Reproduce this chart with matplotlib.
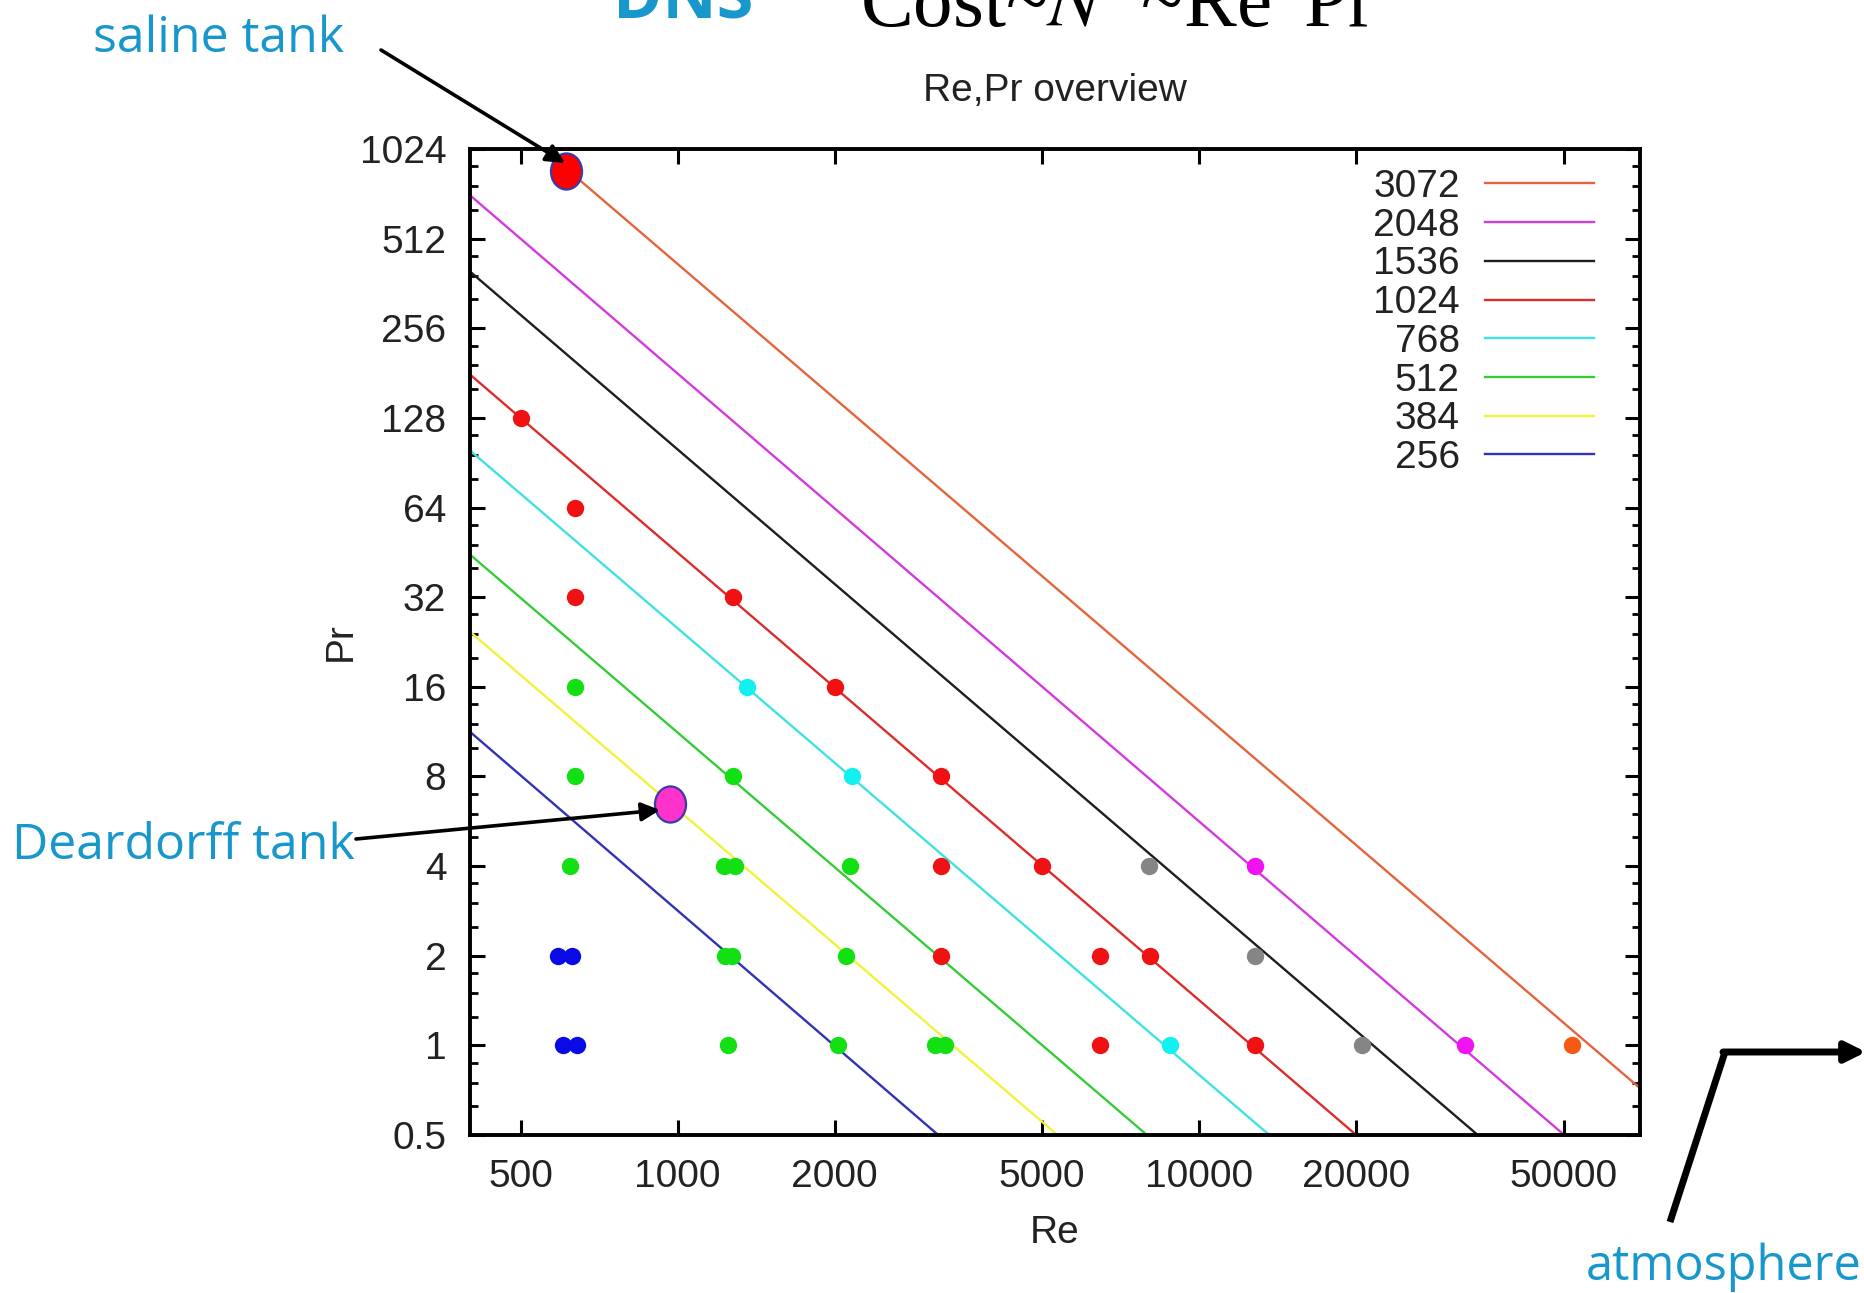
import matplotlib
matplotlib.use("Agg")
import matplotlib.pyplot as plt
from matplotlib.lines import Line2D
from matplotlib.path import Path
from matplotlib.transforms import Affine2D
from matplotlib.ticker import FixedLocator, FixedFormatter, LogLocator, NullFormatter, NullLocator

# ---------------- data ----------------
# resolution lines (N), each a straight line on log-log axes, end points
line_labels = ["3072", "2048", "1536", "1024", "768", "512", "384", "256"]
line_re_start = [553, 400, 400, 400, 400, 400, 400, 400]
line_pr_start = [1024, 716, 397, 179, 99.5, 44.5, 24.5, 11.3]
line_re_end = [70000, 50100, 34200, 20000, 13630, 7940, 5350, 3160]
line_pr_end = [0.718, 0.5, 0.5, 0.5, 0.5, 0.5, 0.5, 0.5]
line_colors = ["#e4643c", "#d23ade", "#1e1e1e", "#dc2c2c", "#3ee2e2", "#36cc36", "#f2f23a", "#3232b4"]

# simulation runs
red_re = [500, 637, 637, 1280, 2000, 3200, 3200, 3200, 5000, 6450, 6450, 8050, 12800]
red_pr = [128, 64, 32, 32, 16, 8, 4, 2, 4, 2, 1, 2, 1]
green_re = [637, 637, 623, 1230, 1290, 1235, 1270, 1250, 1280, 2140, 2105, 2030, 3110, 3250]
green_pr = [16, 8, 4, 4, 4, 2, 2, 1, 8, 4, 2, 1, 1, 1]
blue_re = [590, 628, 603, 642]
blue_pr = [2, 2, 1, 1]
cyan_re = [1356, 2163, 8790]
cyan_pr = [16, 8, 1]
grey_re = [8000, 12800, 20550]
grey_pr = [4, 2, 1]
magenta_re = [12800, 32280]
magenta_pr = [4, 1]
orange_re = [51760]
orange_pr = [1]

# highlighted cases
saline_re, saline_pr = 612, 862
deardorff_re, deardorff_pr = 969, 6.48

x_ticks = [500, 1000, 2000, 5000, 10000, 20000, 50000]
x_ticklabels = ["500", "1000", "2000", "5000", "10000", "20000", "50000"]
y_ticks = [0.5, 1, 2, 4, 8, 16, 32, 64, 128, 256, 512, 1024]
y_ticklabels = ["0.5", "1", "2", "4", "8", "16", "32", "64", "128", "256", "512", "1024"]

# ---------------- figure ----------------
W, H = 1865, 1293
fig = plt.figure(figsize=(W / 100, H / 100), dpi=100)
plt.rcParams["mathtext.fontset"] = "stix"
ax = fig.add_axes([470 / W, 158 / H, 1170 / W, 986 / H])

txt = "#222222"
sans = "Liberation Sans"
fs = 28

for lab, r0, p0, r1, p1, c in zip(line_labels, line_re_start, line_pr_start,
                                   line_re_end, line_pr_end, line_colors):
    ax.plot([r0, r1], [p0, p1], color=c, lw=1.7, label=lab, zorder=2)

pt_kw = dict(linestyle="none", marker="o", markersize=12.5, markeredgewidth=0, zorder=4)
ax.plot(red_re, red_pr, color="#f01212", **pt_kw)
ax.plot(green_re, green_pr, color="#12e012", **pt_kw)
ax.plot(blue_re, blue_pr, color="#0a0ae6", **pt_kw)
ax.plot(cyan_re, cyan_pr, color="#12f0f0", **pt_kw)
ax.plot(grey_re, grey_pr, color="#858585", **pt_kw)
ax.plot(magenta_re, magenta_pr, color="#f012f0", **pt_kw)
ax.plot(orange_re, orange_pr, color="#f45a14", **pt_kw)

ell = Path.unit_circle().transformed(Affine2D().scale(0.86, 1.0))
big_kw = dict(linestyle="none", marker=ell, markersize=26, markeredgewidth=1.6,
              markeredgecolor="#3a3aa8", zorder=6, clip_on=False)
ax.plot([saline_re], [saline_pr], color="#ff0000", **big_kw)
ax.plot([deardorff_re], [deardorff_pr], color="#ff33cc", **big_kw)

ax.set_xscale("log")
ax.set_yscale("log", base=2)
ax.set_xlim(400, 70000)
ax.set_ylim(0.5, 1024)

ax.xaxis.set_major_locator(FixedLocator(x_ticks))
ax.xaxis.set_major_formatter(FixedFormatter(x_ticklabels))
ax.xaxis.set_minor_locator(NullLocator())
ax.yaxis.set_major_locator(FixedLocator(y_ticks))
ax.yaxis.set_major_formatter(FixedFormatter(y_ticklabels))
ax.yaxis.set_minor_locator(LogLocator(base=2, subs=(1.25, 1.5, 1.75), numticks=50))
ax.yaxis.set_minor_formatter(NullFormatter())

for s in ax.spines.values():
    s.set_linewidth(2.8)
    s.set_color("black")
ax.tick_params(which="both", direction="in", top=True, right=True, colors="black")
ax.tick_params(which="major", length=11, width=2.2)
ax.tick_params(which="minor", length=6, width=2.0)
ax.tick_params(axis="y", which="major", pad=17, labelsize=fs, labelcolor=txt)
ax.tick_params(axis="x", which="major", pad=17, labelsize=fs, labelcolor=txt)
for lab in ax.get_xticklabels() + ax.get_yticklabels():
    lab.set_fontfamily(sans)

ax.set_xlabel("Re", fontsize=fs, family=sans, color=txt, labelpad=15)
ax.set_ylabel("Pr", fontsize=fs, family=sans, color=txt, labelpad=1)
ax.set_title("Re,Pr overview", fontsize=fs, family=sans, color=txt, pad=34.5)

leg = ax.legend(loc="upper right", bbox_to_anchor=(1 - 46 / 1170, 1 - 20 / 986),
                frameon=False, markerfirst=False, handlelength=2.8,
                handletextpad=0.65, labelspacing=0.07, borderaxespad=0, borderpad=0,
                prop={"family": sans, "size": fs})
for t in leg.get_texts():
    t.set_color(txt)

# ---------------- annotations (slide overlay) ----------------
blue = "#1797cc"
ann = "Open Sans"
fig.text(93 / W, (H - 52) / H, "saline tank", fontsize=36, family=ann, color=blue, va="baseline")
fig.text(12 / W, (H - 859) / H, "Deardorff tank", fontsize=36, family=ann, color=blue, va="baseline")
fig.text(1586 / W, (H - 1280) / H, "atmosphere", fontsize=35, family=ann, color=blue, va="baseline")

ax.annotate("", xy=(565, H - 163), xytext=(381, H - 50), xycoords="figure pixels",
            textcoords="figure pixels", annotation_clip=False,
            arrowprops=dict(arrowstyle="-|>", color="black", lw=2.6, mutation_scale=28,
                            shrinkA=0, shrinkB=0), zorder=10)
ax.annotate("", xy=(660, H - 810), xytext=(356, H - 839), xycoords="figure pixels",
            textcoords="figure pixels", annotation_clip=False,
            arrowprops=dict(arrowstyle="-|>", color="black", lw=2.6, mutation_scale=28,
                            shrinkA=0, shrinkB=0), zorder=10)
fig.add_artist(Line2D([1670 / W, 1725 / W], [(H - 1222) / H, (H - 1052) / H],
                      transform=fig.transFigure, color="black", lw=5, solid_capstyle="butt"))
ax.annotate("", xy=(1866, H - 1052), xytext=(1723, H - 1052), xycoords="figure pixels",
            textcoords="figure pixels", annotation_clip=False,
            arrowprops=dict(arrowstyle="-|>", color="black", lw=5, mutation_scale=30,
                            shrinkA=0, shrinkB=0), zorder=10)

fig.text(613 / W, (H - 17) / H, "DNS", fontsize=48, family="Open Sans", weight="bold",
         color=blue, va="baseline")
fig.text(860 / W, (H - 26) / H, r"Cost~$N^{4}$~Re$^{3}$Pr$^{2}$", fontsize=57,
         family="Liberation Serif", color="black", va="baseline")

fig.savefig("out.png", dpi=100)
